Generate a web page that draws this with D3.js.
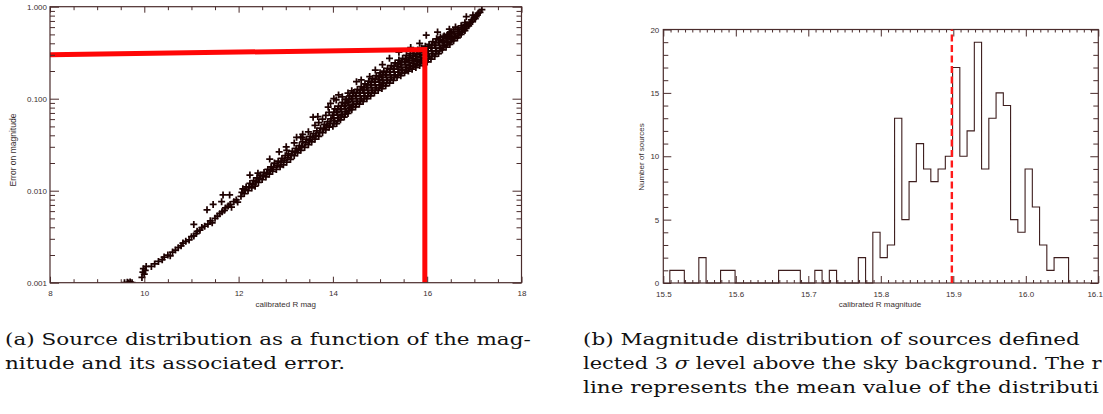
<!DOCTYPE html>
<html><head><meta charset="utf-8">
<script src="https://cdn.jsdelivr.net/npm/d3@7"></script>
<style>body{margin:0;background:#fff} svg{display:block}</style>
</head><body>
<svg id="c" width="1103" height="414"></svg>
<script>
// ---------- data: panel (a) sources [calibrated R mag, error on magnitude] ----------
const srcBright = [
[9.58,0.00100],[9.64,0.00101],[9.70,0.00102],[9.74,0.00100],[9.67,0.00099],
[9.95,0.00114],[9.97,0.00130],[9.98,0.00142],[10.00,0.00124],[10.02,0.00136],[10.04,0.00150],
[10.15,0.00150],[10.22,0.00160],[10.30,0.00170],[10.38,0.00178],[10.42,0.00190],[10.50,0.00200],
[10.55,0.00196],[10.60,0.00215],[10.66,0.00226],[10.72,0.00240],[10.78,0.00252],[10.82,0.00270],
[10.88,0.00282],[10.95,0.00292],[11.00,0.00316],[11.05,0.00322],[11.10,0.00342],[11.12,0.00362],
[11.18,0.00372],[11.22,0.00398],[11.28,0.00412],[11.35,0.00432],[11.40,0.00470],[11.44,0.00448],
[11.50,0.00501],[11.55,0.00530],[11.60,0.00562],[11.65,0.00590],[11.70,0.00612],[11.72,0.00650],
[11.78,0.00680],[11.82,0.00708],[11.85,0.00662],[11.90,0.00760],[11.95,0.00794],[11.98,0.00752]
];
const srcMid = [
[12.05,0.0087],[12.09,0.0105],[12.12,0.0093],[12.16,0.0110],[12.20,0.0100],[12.24,0.0120],
[12.28,0.0107],[12.32,0.0129],[12.35,0.0112],[12.39,0.0138],[12.42,0.0123],[12.46,0.0148],
[12.50,0.0132],[12.54,0.0158],[12.58,0.0141],[12.62,0.0170],[12.65,0.0151],[12.69,0.0182],
[12.72,0.0162],[12.76,0.0200],[12.80,0.0170],[12.84,0.0209],[12.88,0.0182],[12.92,0.0224],
[12.95,0.0191],[12.99,0.0240],[13.02,0.0204],[13.06,0.0251],[13.02,0.0275],[13.10,0.0219],
[13.14,0.0269],[13.18,0.0240],[13.22,0.0288],[13.18,0.0331],[13.25,0.0257],[13.29,0.0309],
[13.32,0.0275],[13.36,0.0339],[13.32,0.0380],[13.40,0.0295],[13.44,0.0363],[13.48,0.0316],
[13.52,0.0389],[13.48,0.0437],[13.55,0.0339],[13.59,0.0417],[13.62,0.0363],[13.66,0.0447],
[13.62,0.0513],[13.70,0.0389],[13.74,0.0479],[13.70,0.0550],[13.78,0.0427],[13.82,0.0525],
[13.78,0.0600],[13.85,0.0457],[13.89,0.0562],[13.85,0.0660],[13.92,0.0490],[13.96,0.0603],[13.92,0.0708]
];
const srcMid2 = [
[12.07,0.0096],[12.14,0.0102],[12.22,0.0110],[12.30,0.0118],[12.37,0.0125],[12.44,0.0135],
[12.52,0.0145],[12.60,0.0155],[12.67,0.0166],[12.74,0.0180],[12.82,0.0190],[12.90,0.0203],
[12.97,0.0215],[13.04,0.0228],[13.12,0.0243],[13.20,0.0263],[13.27,0.0282],[13.34,0.0305],
[13.42,0.0330],[13.50,0.0350],[13.57,0.0377],[13.64,0.0400],[13.72,0.0430],[13.80,0.0470],
[13.87,0.0505],[13.94,0.0540]
];
const srcFaint = [
[14.00,0.0501],[14.04,0.0575],[14.00,0.0661],[14.04,0.0776],
[14.08,0.0537],[14.12,0.0617],[14.08,0.0708],[14.12,0.0832],
[14.16,0.0589],[14.20,0.0676],[14.16,0.0776],[14.20,0.0912],
[14.24,0.0631],[14.28,0.0724],[14.24,0.0832],[14.28,0.0977],
[14.32,0.0692],[14.36,0.0794],[14.32,0.0912],[14.36,0.107],
[14.40,0.0759],[14.44,0.0871],[14.40,0.100],[14.44,0.117],
[14.48,0.0813],[14.52,0.0933],[14.48,0.107],[14.52,0.126],
[14.56,0.0871],[14.60,0.100],[14.56,0.115],[14.60,0.135],
[14.64,0.0933],[14.68,0.107],[14.64,0.123],[14.68,0.145],
[14.72,0.100],[14.76,0.115],[14.72,0.132],[14.76,0.155],
[14.80,0.107],[14.84,0.123],[14.80,0.141],[14.84,0.166],
[14.88,0.115],[14.92,0.132],[14.88,0.151],[14.92,0.178],
[14.96,0.123],[15.00,0.141],[14.96,0.162],[15.00,0.191],
[15.04,0.129],[15.08,0.148],[15.04,0.170],[15.08,0.200],
[15.12,0.138],[15.16,0.158],[15.12,0.182],[15.16,0.214],
[15.20,0.148],[15.24,0.170],[15.20,0.195],[15.24,0.229],
[15.28,0.158],[15.32,0.182],[15.28,0.209],[15.32,0.245],
[15.36,0.170],[15.40,0.195],[15.36,0.224],[15.40,0.263],
[15.44,0.178],[15.48,0.204],[15.44,0.234],[15.48,0.275],
[15.52,0.191],[15.56,0.219],[15.52,0.251],[15.56,0.295],
[15.60,0.200],[15.64,0.229],[15.60,0.263],[15.64,0.309],
[15.68,0.209],[15.72,0.240],[15.68,0.275],[15.72,0.324],
[15.76,0.219],[15.80,0.251],[15.76,0.288],[15.80,0.339],
[15.84,0.229],[15.88,0.263],[15.84,0.302],[15.88,0.355],
[15.92,0.240],[15.96,0.275],[15.92,0.316],[15.96,0.372],
[16.00,0.251],[16.04,0.288],[16.00,0.331],[16.04,0.389],
[16.08,0.269],[16.12,0.309],[16.08,0.355],[16.12,0.417],
[16.16,0.288],[16.20,0.331],[16.16,0.380],[16.20,0.447],
[16.24,0.309],[16.28,0.355],[16.24,0.407],[16.28,0.468],
[16.32,0.339],[16.36,0.380],[16.32,0.427],[16.36,0.479],
[16.40,0.363],[16.44,0.407],[16.40,0.457],[16.44,0.500],
[16.48,0.389],[16.52,0.437],[16.48,0.479],[16.52,0.525],
[16.56,0.427],[16.60,0.479],[16.56,0.540],[16.64,0.457],[16.68,0.513],[16.64,0.570],
[16.72,0.501],[16.76,0.560],[16.72,0.620],[16.80,0.550],[16.84,0.610],[16.80,0.670],
[16.88,0.620],[16.92,0.680],[16.96,0.690],[17.00,0.760],[17.04,0.780],[17.08,0.850],
[17.12,0.870],[17.16,0.930],[16.83,0.780],[16.97,0.810]
];
const srcFaint2 = [
[14.02,0.0537],[14.02,0.0617],[14.02,0.0708],[14.10,0.0575],[14.10,0.0661],[14.10,0.0759],
[14.18,0.0631],[14.18,0.0724],[14.18,0.0832],[14.26,0.0676],[14.26,0.0776],[14.26,0.0891],
[14.34,0.0741],[14.34,0.0851],[14.34,0.0977],[14.42,0.0813],[14.42,0.0933],[14.42,0.107],
[14.50,0.0871],[14.50,0.100],[14.50,0.115],[14.58,0.0933],[14.58,0.107],[14.58,0.123],
[14.66,0.100],[14.66,0.115],[14.66,0.132],[14.74,0.107],[14.74,0.123],[14.74,0.141],
[14.82,0.115],[14.82,0.132],[14.82,0.151],[14.90,0.123],[14.90,0.141],[14.90,0.162],
[14.98,0.132],[14.98,0.151],[14.98,0.174],[15.06,0.138],[15.06,0.159],[15.06,0.182],
[15.14,0.148],[15.14,0.170],[15.14,0.195],[15.22,0.159],[15.22,0.182],[15.22,0.209],
[15.30,0.170],[15.30,0.195],[15.30,0.224],[15.38,0.182],[15.38,0.209],[15.38,0.240],
[15.46,0.191],[15.46,0.219],[15.46,0.251],[15.54,0.204],[15.54,0.234],[15.54,0.269],
[15.62,0.214],[15.62,0.246],[15.62,0.282],[15.70,0.224],[15.70,0.257],[15.70,0.295],
[15.78,0.234],[15.78,0.269],[15.78,0.309],[15.86,0.246],[15.86,0.282],[15.86,0.324],
[15.94,0.257],[15.94,0.295],[15.94,0.339],[16.02,0.269],[16.02,0.309],[16.02,0.355],
[16.10,0.288],[16.10,0.331],[16.10,0.380],[16.18,0.309],[16.18,0.355],[16.18,0.407],
[16.26,0.331],[16.26,0.380],[16.26,0.437],[16.34,0.363],[16.34,0.417],[16.34,0.468],
[16.42,0.389],[16.42,0.447],[16.42,0.490],[16.50,0.417],[16.50,0.468],[16.50,0.513],
[16.58,0.455],[16.58,0.505],[16.66,0.485],[16.66,0.540],[16.74,0.530],[16.74,0.590],
[16.82,0.585],[16.82,0.640],[16.90,0.650],[16.94,0.720],[17.02,0.740],[17.06,0.810]
];
const srcOutliers = [
[11.05,0.0043],[11.33,0.0062],[11.46,0.0071],[11.64,0.0076],[11.67,0.0090],[11.81,0.0090],
[12.24,0.0148],[12.41,0.0155],[12.66,0.0221],[12.86,0.0265],[13.01,0.0300],[13.23,0.0380],
[13.35,0.0380],[13.36,0.0410],[13.58,0.0630],[13.68,0.0640],[13.90,0.0810],[13.95,0.0890],
[14.02,0.1000],[14.07,0.0970],[14.12,0.1100],[14.20,0.1050],[14.29,0.0990],[14.32,0.1150],
[14.40,0.1220],[14.50,0.1530],[14.64,0.1240],[14.78,0.1740],[14.60,0.160],[14.90,0.205],
[15.05,0.235],[15.20,0.275],[15.40,0.320],[15.65,0.360],[15.84,0.400],[15.98,0.490],
[16.22,0.530],[16.47,0.570],[16.60,0.600]
];
// red cut lines in panel (a)
const cutLine = [[8.0,0.300],[15.95,0.343],[15.95,0.001]];

// ---------- data: panel (b) histogram ----------
const binStart = [15.509,15.519,15.529,15.539,15.549,15.559,15.569,15.579,15.589,15.599,
15.609,15.619,15.629,15.639,15.649,15.659,15.669,15.679,15.689,15.699,
15.709,15.719,15.729,15.739,15.749,15.759,15.769,15.779,15.789,15.799,
15.809,15.819,15.829,15.839,15.849,15.859,15.869,15.879,15.889,15.899,
15.909,15.919,15.929,15.939,15.949,15.959,15.969,15.979,15.989,15.999,
16.009,16.019,16.029,16.039,16.049];
const binWidth = 0.01;
const counts = [1,1,0,0,2,0,0,1,1,0, 0,0,0,0,0,1,1,1,0,0, 1,0,1,0,0,0,2,0,4,2,
3,13,5,8,11,9,8,9,10,17, 10,12,19,9,13,15,14,5,4,9, 6,3,1,2,2];
const meanMag = 15.898;

// tick labels
const aXTicks = [8,10,12,14,16,18];
const aYTicks = [0.001,0.01,0.1,1];
const bXTicks = [15.5,15.6,15.7,15.8,15.9,16.0,16.1];
const bYTicks = [0,5,10,15,20];

const captionA = ["(a) Source distribution as a function of the mag-","nitude and its associated error."];
const captionB = ["(b) Magnitude distribution of sources defined","lected 3 σ level above the sky background. The r","line represents the mean value of the distributi"];

// ---------- drawing ----------
const svg = d3.select("#c");
const AX = "#4a2c2c", TX = "#3a3030", PT = "#1e0202";
const SANS = "'Liberation Sans', Arial, Helvetica, sans-serif";

function styleAxis(g){
  g.select(".domain").remove();
  g.selectAll("line").attr("stroke",AX).attr("stroke-width",1);
  g.selectAll("text").attr("fill",TX).attr("font-family",SANS).attr("font-size",8);
}

// ===== panel (a) =====
const xA = d3.scaleLinear().domain([8,18]).range([50,521.5]);
const yA = d3.scaleLog().domain([0.001,1]).range([282.7,6.7]);
const [aL,aR] = xA.range(), [aB,aT] = yA.range();

const aMinorX = d3.range(8,18.001,0.5).filter(v=>!aXTicks.includes(v));
const aMinorY = yA.ticks().filter(v=>!aYTicks.some(t=>Math.abs(t-v)<1e-9));

svg.append("defs").append("clipPath").attr("id","clipA")
  .append("rect").attr("x",aL).attr("y",aT).attr("width",aR-aL).attr("height",aB-aT);

// points
const allSrc = srcBright.concat(srcMid, srcMid2, srcFaint, srcFaint2, srcOutliers);
svg.append("g").attr("clip-path","url(#clipA)")
  .selectAll("path").data(allSrc).join("path")
  .attr("transform",d=>`translate(${xA(d[0])},${yA(d[1])})`)
  .attr("d","M-3.5,0H3.5M0,-3.5V3.5")
  .attr("stroke",PT).attr("stroke-width",1.75).attr("fill","none");

// red cut line
svg.append("path").datum(cutLine)
  .attr("d",d3.line().x(d=>xA(d[0])).y(d=>yA(d[1])))
  .attr("fill","none").attr("stroke","#ff0606").attr("stroke-width",5)
  .attr("stroke-linejoin","miter");

// axes (a)
svg.append("g").attr("transform",`translate(0,${aB})`)
  .call(d3.axisBottom(xA).tickValues(aXTicks).tickSize(-6).tickPadding(8).tickFormat(d3.format("d"))).call(styleAxis);
svg.append("g").attr("transform",`translate(0,${aB})`)
  .call(d3.axisBottom(xA).tickValues(aMinorX).tickSize(-3.5).tickFormat("")).call(styleAxis);
svg.append("g").attr("transform",`translate(0,${aT})`)
  .call(d3.axisTop(xA).tickValues(aXTicks).tickSize(-6).tickFormat("")).call(styleAxis);
svg.append("g").attr("transform",`translate(0,${aT})`)
  .call(d3.axisTop(xA).tickValues(aMinorX).tickSize(-3.5).tickFormat("")).call(styleAxis);
svg.append("g").attr("transform",`translate(${aL},0)`)
  .call(d3.axisLeft(yA).tickValues(aYTicks).tickSize(-9).tickPadding(3).tickFormat(d3.format(".3f"))).call(styleAxis);
svg.append("g").attr("transform",`translate(${aL},0)`)
  .call(d3.axisLeft(yA).tickValues(aMinorY).tickSize(-5).tickFormat("")).call(styleAxis);
svg.append("g").attr("transform",`translate(${aR},0)`)
  .call(d3.axisRight(yA).tickValues(aYTicks).tickSize(-9).tickFormat("")).call(styleAxis);
svg.append("g").attr("transform",`translate(${aR},0)`)
  .call(d3.axisRight(yA).tickValues(aMinorY).tickSize(-5).tickFormat("")).call(styleAxis);
svg.append("rect").attr("x",aL).attr("y",aT).attr("width",aR-aL).attr("height",aB-aT)
  .attr("fill","none").attr("stroke",AX).attr("stroke-width",1.2);

svg.append("text").attr("x",(aL+aR)/2).attr("y",307).attr("text-anchor","middle")
  .attr("fill",TX).attr("font-family",SANS).attr("font-size",8).text("calibrated R mag");
svg.append("text").attr("transform",`translate(16,150) rotate(-90)`).attr("text-anchor","middle")
  .attr("fill",TX).attr("font-family",SANS).attr("font-size",8.5).text("Error on magnitude");

// ===== panel (b) =====
const xB = d3.scaleLinear().domain([15.5,16.1]).range([663.3,1098.3]);
const yB = d3.scaleLinear().domain([0,20]).range([283,29.5]);
const [bL,bR] = xB.range(), [bB,bT] = yB.range();
const bMinorX = d3.range(0,61).map(i=>15.5+i*0.01).filter(v=>!bXTicks.some(t=>Math.abs(t-v)<1e-6));
const bMinorY = d3.range(0,21).filter(v=>!bYTicks.includes(v));

// histogram outline
const verts = [[binStart[0],0]];
counts.forEach((c,i)=>{ verts.push([binStart[i],c]); verts.push([binStart[i]+binWidth,c]); });
verts.push([binStart[binStart.length-1]+binWidth,0]);
svg.append("path").datum(verts)
  .attr("d",d3.line().x(d=>xB(d[0])).y(d=>yB(d[1])))
  .attr("fill","none").attr("stroke","#3e1e1e").attr("stroke-width",1.1);

// axes (b)
const bxAxis = svg.append("g").attr("transform",`translate(0,${bB})`)
  .call(d3.axisBottom(xB).tickValues(bXTicks).tickSize(-7).tickPadding(8).tickFormat(d3.format(".1f"))).call(styleAxis);
bxAxis.selectAll(".tick").filter(d=>Math.abs(d-16.1)<1e-6).select("text")
  .attr("text-anchor","end").attr("x",1102.5-xB(16.1));
svg.append("g").attr("transform",`translate(0,${bB})`)
  .call(d3.axisBottom(xB).tickValues(bMinorX).tickSize(-3).tickFormat("")).call(styleAxis);
svg.append("g").attr("transform",`translate(0,${bT})`)
  .call(d3.axisTop(xB).tickValues(bXTicks).tickSize(-7).tickFormat("")).call(styleAxis);
svg.append("g").attr("transform",`translate(0,${bT})`)
  .call(d3.axisTop(xB).tickValues(bMinorX).tickSize(-3).tickFormat("")).call(styleAxis);
svg.append("g").attr("transform",`translate(${bL},0)`)
  .call(d3.axisLeft(yB).tickValues(bYTicks).tickSize(-8).tickPadding(4).tickFormat(d3.format("d"))).call(styleAxis);
svg.append("g").attr("transform",`translate(${bL},0)`)
  .call(d3.axisLeft(yB).tickValues(bMinorY).tickSize(-5).tickFormat("")).call(styleAxis);
svg.append("g").attr("transform",`translate(${bR},0)`)
  .call(d3.axisRight(yB).tickValues(bYTicks).tickSize(-8).tickFormat("")).call(styleAxis);
svg.append("g").attr("transform",`translate(${bR},0)`)
  .call(d3.axisRight(yB).tickValues(bMinorY).tickSize(-5).tickFormat("")).call(styleAxis);
svg.append("rect").attr("x",bL).attr("y",bT).attr("width",bR-bL).attr("height",bB-bT)
  .attr("fill","none").attr("stroke",AX).attr("stroke-width",1.2);

// mean line
svg.append("line").attr("x1",xB(meanMag)).attr("x2",xB(meanMag)).attr("y1",yB(0)).attr("y2",yB(20))
  .attr("stroke","#ff1a1a").attr("stroke-width",2.4).attr("stroke-dasharray","7,3.5");

svg.append("text").attr("x",880).attr("y",307).attr("text-anchor","middle")
  .attr("fill",TX).attr("font-family",SANS).attr("font-size",8).text("calibrated R magnitude");
svg.append("text").attr("transform",`translate(644,157) rotate(-90)`).attr("text-anchor","middle")
  .attr("fill",TX).attr("font-family",SANS).attr("font-size",8).text("Number of sources");

// ===== captions =====
const SERIF = "DejaVu Serif, serif";
function capLine(x,y,str){
  const t = svg.append("text").attr("fill","#111").style("font-family",SERIF).style("font-size","17.5px");
  const parts = str.split("σ");
  parts.forEach((p,i)=>{
    t.append("tspan").text(p);
    if(i<parts.length-1) t.append("tspan").style("font-style","italic").text("σ");
  });
  t.attr("data-x",x).attr("data-y",y);
  return t;
}
const capNodes = [];
captionA.forEach((s,i)=>capNodes.push(capLine(5,345+24*i,s)));
captionB.forEach((s,i)=>capNodes.push(capLine(583,345+24*i,s)));
const k = 526/capNodes[0].node().getComputedTextLength();
capNodes.forEach(t=>{
  const x = +t.attr("data-x");
  const w = t.node().getComputedTextLength();
  const kk = Math.min(k, (1102 - x)/w);
  t.attr("transform",`translate(${x},${t.attr("data-y")}) scale(${kk},1)`);
});
</script>
</body></html>
